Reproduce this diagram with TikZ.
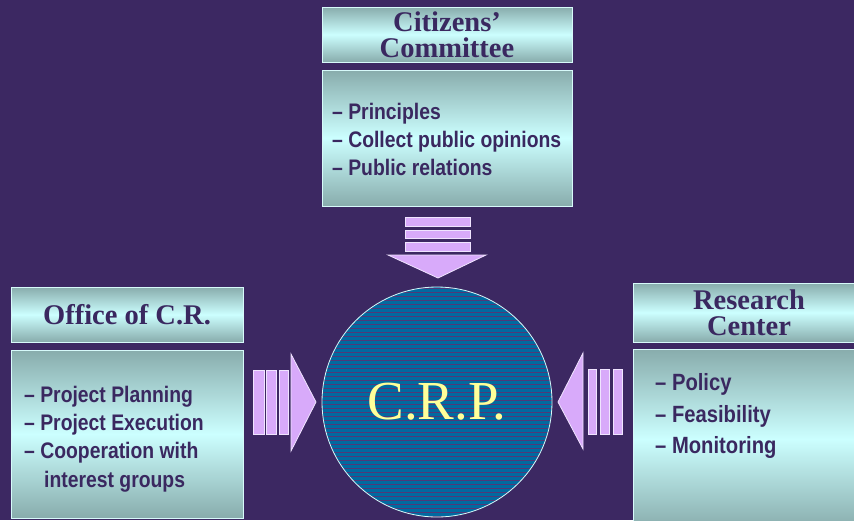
\documentclass[tikz,border=0pt]{standalone}
\usepackage{fontspec}
\setmainfont{Liberation Serif}
\newfontfamily\listfont[FakeStretch=0.86]{Liberation Sans}
\definecolor{bgpurple}{RGB}{60,40,98}
\definecolor{inkpurple}{RGB}{58,40,96}
\definecolor{boxdark}{RGB}{136,172,172}
\definecolor{boxlight}{RGB}{204,255,255}
\definecolor{boxline}{RGB}{215,250,250}
\definecolor{crpblue}{RGB}{0,106,160}
\definecolor{stripe}{RGB}{80,56,120}
\definecolor{lilac}{RGB}{216,170,250}
\definecolor{lilacline}{RGB}{240,228,255}
\definecolor{crpyellow}{RGB}{255,255,153}
\tikzset{
  headbox/.style={draw=boxline,line width=0.8pt,top color=boxdark,bottom color=boxdark,middle color=boxlight,
    inner sep=0pt,text=inkpurple,align=center,font=\fontsize{28.5}{26}\selectfont\bfseries},
  bodybox/.style={draw=boxline,line width=0.8pt,top color=boxdark,bottom color=boxdark,middle color=boxlight,inner sep=0pt},
  listtext/.style={inner sep=0pt,text=inkpurple,align=left,anchor=west},
  arrowpart/.style={fill=lilac,draw=lilacline,line width=0.8pt}
}
\begin{document}
\begin{tikzpicture}[x=1pt,y=-1pt]
\clip (0,0) rectangle (854,520);
\fill[bgpurple] (0,0) rectangle (854,520);
% citizens' committee
\node[headbox,minimum width=250pt,minimum height=55pt] (cithead) at (447,34.5) {Citizens'\\Committee};
\node[bodybox,minimum width=250pt,minimum height=136pt] (citbody) at (447,138) {};
\node[listtext,font=\listfont\fontsize{22.5}{28}\selectfont\bfseries] (citlist) at (332,139) {– Principles\\– Collect public opinions\\– Public relations};
% office of C.R.
\node[headbox,minimum width=232pt,minimum height=55pt] (offhead) at (127,314.5) {Office of C.R.};
\node[bodybox,minimum width=232pt,minimum height=168pt] (offbody) at (127,434) {};
\node[listtext,font=\listfont\fontsize{22.5}{28.3}\selectfont\bfseries] (offlist) at (24,439) {– Project Planning\\– Project Execution\\– Cooperation with\\\hspace*{20pt}interest groups};
% research center
\node[headbox,minimum width=232pt,minimum height=59pt] (reshead) at (749,312.5) {Research\\Center};
\node[bodybox,minimum width=232pt,minimum height=180pt] (resbody) at (749,439) {};
\node[listtext,font=\listfont\fontsize{23.5}{31.5}\selectfont\bfseries] (reslist) at (655,416) {– Policy\\– Feasibility\\– Monitoring};
% C.R.P.
\node[circle,minimum size=230pt,inner sep=0pt,fill=crpblue,draw=boxline,line width=0.8pt,
  text=crpyellow,font=\fontsize{55}{55}\selectfont,
  path picture={\foreach \y in {-118,-114,...,118} \draw[stripe,line width=0.3pt] (path picture bounding box.center) ++(-120,\y) -- ++(240,0);}] (crp) at (437,402) {C.R.P.};
% arrows
\draw[arrowpart] (405,217) rectangle (470,226);
\draw[arrowpart] (405,230) rectangle (470,238);
\draw[arrowpart] (405,242) rectangle (470,251);
\draw[arrowpart] (388,255) -- (486,255) -- (438,278) -- cycle;
\draw[arrowpart] (253,370) rectangle (264,434);
\draw[arrowpart] (266,370) rectangle (276,434);
\draw[arrowpart] (279,370) rectangle (288,434);
\draw[arrowpart] (291,354) -- (291,451) -- (316,402) -- cycle;
\draw[arrowpart] (583,353) -- (583,449) -- (558,402) -- cycle;
\draw[arrowpart] (588,369) rectangle (596,434);
\draw[arrowpart] (600,369) rectangle (609,434);
\draw[arrowpart] (613,369) rectangle (622,434);
\end{tikzpicture}
\end{document}
